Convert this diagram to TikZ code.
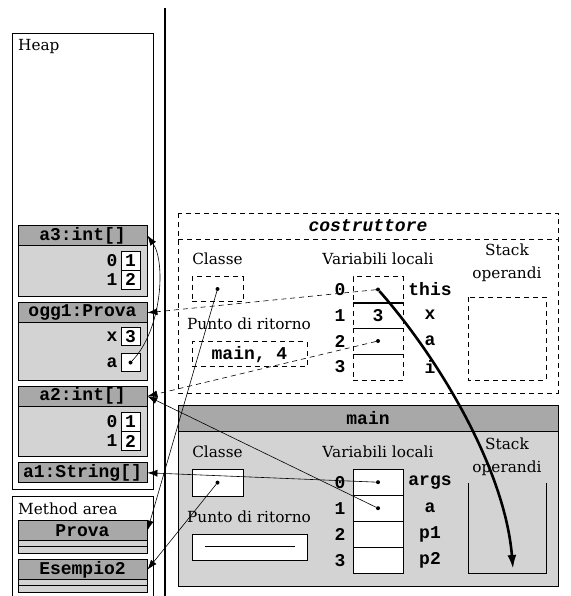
\documentclass[tikz,border=0pt]{standalone}
\usepackage{fontspec}
\setmainfont{DejaVu Serif}
\setmonofont{Liberation Mono}
\usetikzlibrary{arrows.meta}
\definecolor{cHdr}{HTML}{A8A8A8}
\definecolor{cBody}{HTML}{D3D3D3}
\tikzset{
  lbl/.style={font=\fontsize{15.3}{23}\selectfont,inner sep=0pt},
  code/.style={font=\fontsize{18}{20}\selectfont\ttfamily\bfseries,inner sep=0pt},
  codeit/.style={font=\fontsize{18}{20}\selectfont\ttfamily\bfseries\itshape,inner sep=0pt},
  hdr/.style={draw,fill=cHdr,line width=.8pt,minimum width=129pt,minimum height=20pt,code},
  objbody/.style={draw,fill=cBody,line width=.8pt,minimum width=129pt,inner sep=0pt},
  stripe/.style={draw,fill=cBody,line width=.8pt},
  cell/.style={draw,fill=white,line width=.6pt,minimum width=19pt,minimum height=19pt,code},
  vcell/.style={draw,fill=white,line width=.6pt,minimum width=50pt,minimum height=26pt,code},
  dsh/.style={dash pattern=on 5pt off 4pt,line width=.6pt},
  dbox/.style={draw,dsh,minimum width=50pt,minimum height=25pt,code},
  dot/.style={circle,fill=black,inner sep=0pt,minimum size=4pt},
  ref/.style={-{Latex[length=10pt,width=7pt]},line width=.6pt},
  dref/.style={ref,dsh},
  thick ref/.style={-{Latex[length=14pt,width=9pt]},line width=2.6pt},
}

\begin{document}
\begin{tikzpicture}[x=1pt,y=-1pt]
  \useasboundingbox (0,0) rectangle (570,596);
  % heap
  \draw[line width=.6pt] (12,33) rectangle (153,489);
  \node[lbl,anchor=west] (heapT) at (18,47) {Heap};
  \node[objbody,minimum height=51pt] (a3b) at (82.5,271.2) {};
  \node[hdr] (a3) at (82.5,235.5) {a3:int[]};
  \node[cell,label={[code,xshift=-3pt]left:0}] (a3c0) at (130.5,260.5) {1};
  \node[cell,label={[code,xshift=-3pt]left:1}] (a3c1) at (130.5,279.5) {2};
  \node[objbody,minimum height=57.3pt] (oggb) at (82.5,351.3) {};
  \node[hdr] (ogg1) at (82.5,312.7) {ogg1:Prova};
  \node[cell,minimum height=18pt,label={[code,xshift=-3pt]left:x}] (oggx) at (130.5,336.5) {3};
  \node[cell,minimum height=18pt,label={[code,xshift=-3pt]left:a}] (ogga) at (130.5,362.5) {};
  \node[dot] (odot) at (ogga.center) {};
  \node[objbody,minimum height=51pt] (a2b) at (82.5,431.2) {};
  \node[hdr] (a2) at (82.5,396.2) {a2:int[]};
  \node[cell,label={[code,xshift=-3pt]left:0}] (a2c0) at (130.5,421.5) {1};
  \node[cell,label={[code,xshift=-3pt]left:1}] (a2c1) at (130.5,441) {2};
  \node[hdr] (a1) at (82.5,472.8) {a1:String[]};
  % method area
  \draw[line width=.6pt] (12,600) |- (153,496) -- (153,600);
  \node[lbl,anchor=west] (methT) at (18,509) {Method area};
  \node[hdr] (prova) at (82.5,530.5) {Prova};
  \draw[stripe] (18,540.5) rectangle (147,546.5);
  \draw[stripe] (18,546.5) rectangle (147,553);
  \node[hdr] (esempio) at (82.5,569.7) {Esempio2};
  \draw[stripe] (18,579.7) rectangle (147,585.7);
  \draw[stripe] (18,585.7) rectangle (147,592);
  \draw[line width=2.6pt] (165,8) -- (165,596);
  % frame costruttore
  \draw[dsh] (178,213) rectangle (558,393);
  \draw[dsh] (178,239.5) -- (558,239.5);
  \node[codeit] (costrT) at (368,226) {costruttore};
  \node[lbl] at (217.5,259) {Classe};
  \node[dbox,minimum width=51pt] (cls1) at (217.5,289) {};
  \node[dot] (c1dot) at (cls1.center) {};
  \node[lbl] at (249,324) {Punto di ritorno};
  \node[dbox,minimum width=115pt] (ret1) at (249.5,354.2) {main, 4};
  \node[lbl] at (378,259) {Variabili locali};
  \foreach \i/\yy/\nm in {0/289.5/this,1/315.2/x,2/341/a,3/367/i}{
    \node[dbox,minimum height=26pt] (v1c\i) at (378,\yy) {};
    \node[code] at (340,\yy) {\i};
    \node[code] at (430,\yy) {\nm};
  }
  \foreach \i in {0,1,2}
    \draw[line width=.5pt] (v1c\i.south west) -- (v1c\i.south east);
  \node[code] at (v1c1.center) {3};
  \node[dot] (tdot) at (v1c0.center) {};
  \node[dot] (adot) at (v1c2.center) {};
  \node[lbl,align=center] at (507,263) {Stack\\operandi};
  \draw[dsh] (468,297) rectangle (546,380);
  % frame main
  \node[draw,fill=cBody,line width=.8pt,minimum width=380pt,minimum height=181pt] (mainB) at (368,495.5) {};
  \node[hdr,minimum width=380pt,minimum height=26.7pt] (mainH) at (368,418.3) {main};
  \node[lbl] at (217.5,451.7) {Classe};
  \node[vcell,minimum width=51pt,minimum height=26.7pt] (cls2) at (217.5,482.6) {};
  \node[dot] (c2dot) at (cls2.center) {};
  \node[lbl] at (249,516.7) {Punto di ritorno};
  \node[vcell,minimum width=115pt,minimum height=26pt] (ret2) at (249.5,547) {};
  \draw[line width=.6pt] (205,546.7) -- (295,546.7);
  \node[lbl] at (378,451.7) {Variabili locali};
  \foreach \i/\yy/\nm in {0/482.2/args,1/508.2/a,2/534.2/p1,3/560.2/p2}{
    \node[vcell] (v2c\i) at (378,\yy) {};
    \node[code] at (340,\yy) {\i};
    \node[code] at (430,\yy) {\nm};
  }
  \node[dot] (argsdot) at (v2c0.center) {};
  \node[dot] (amdot) at (v2c1.center) {};
  \node[lbl,align=center] at (507,456.5) {Stack\\operandi};
  \draw[line width=.6pt] (468,483) -- (468,573) -- (546,573) -- (546,483);
  \coordinate (stackTop) at (513,569);
  % references
  \draw[ref] (odot) .. controls (162,330) and (166,262) .. (a3.east);
  \draw[dref] (tdot) -- (ogg1.east);
  \draw[ref] (c1dot) -- (prova.east);
  \draw[dref] (adot) -- (a2.east);
  \draw[ref] (argsdot) -- (a1.east);
  \draw[ref] (amdot) -- (a2.east);
  \draw[ref] (c2dot) -- (esempio.east);
  \draw[thick ref] (tdot) .. controls (440,360) and (505,470) .. (stackTop);
\end{tikzpicture}
\end{document}
